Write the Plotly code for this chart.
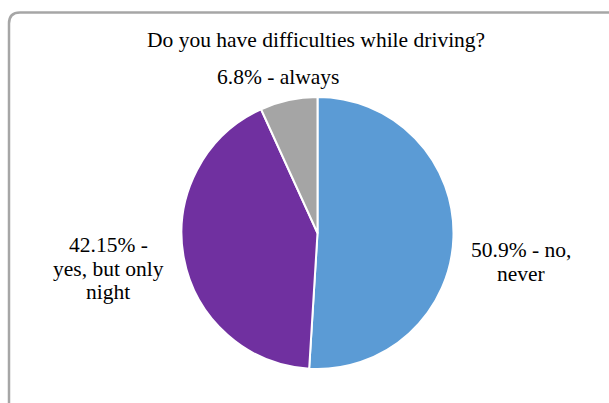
import plotly.graph_objects as go

categories = ["no, never", "yes, but only night", "always"]
values = [50.9, 42.15, 6.8]
value_labels = ["50.9%", "42.15%", "6.8%"]
colors = ["#5B9BD5", "#7030A0", "#A5A5A5"]
title_text = "Do you have difficulties while driving?"

W, H = 609, 403
cx, cy, r = 317.5, 233, 136

fig = go.Figure(go.Pie(
    labels=categories,
    values=values,
    sort=False,
    direction="clockwise",
    rotation=0,
    textinfo="none",
    hoverinfo="label+percent",
    marker=dict(colors=colors, line=dict(color="white", width=2)),
    domain=dict(x=[(cx - r) / W, (cx + r) / W], y=[(H - cy - r) / H, (H - cy + r) / H]),
    showlegend=False,
))

FS = 21.5
font = dict(family="Liberation Serif, Times New Roman, serif", size=FS, color="#000000")

# label lines (line breaks as in the reference)
label_lines = [
    [f"{value_labels[0]} - no,", "never"],
    [f"{value_labels[1]} -", "yes, but only", "night"],
    [f"{value_labels[2]} - {categories[2]}"],
]
label_pos = [(521, 250), (108, 245), (277.5, 77)]
LS = 23.5
annotations = []
for lines, (x, y) in zip(label_lines, label_pos):
    for i, t in enumerate(lines):
        annotations.append(dict(text=t, x=x / W, y=1 - (y + i * LS) / H, xref="paper", yref="paper",
                                showarrow=False, font=font, align="center",
                                xanchor="center", yanchor="middle"))
annotations.append(dict(text=title_text, x=315.5 / W, y=1 - 40 / H, xref="paper", yref="paper",
                        showarrow=False, font=font, xanchor="center", yanchor="middle"))

# rounded border
x0, y0, x1, y1, rr = 9, 12.5, 620, 410, 11
def px(x): return x / W
def py(y): return 1 - y / H
path = (f"M {px(x0)},{py(y1)} L {px(x0)},{py(y0 + rr)} "
        f"Q {px(x0)},{py(y0)} {px(x0 + rr)},{py(y0)} "
        f"L {px(x1)},{py(y0)}")

fig.update_layout(
    width=W, height=H,
    margin=dict(l=0, r=0, t=0, b=0),
    paper_bgcolor="white",
    plot_bgcolor="white",
    annotations=annotations,
    shapes=[dict(type="path", path=path, xref="paper", yref="paper",
                 line=dict(color="#A6A6A6", width=2.5))],
)

fig.write_html("out.html")
